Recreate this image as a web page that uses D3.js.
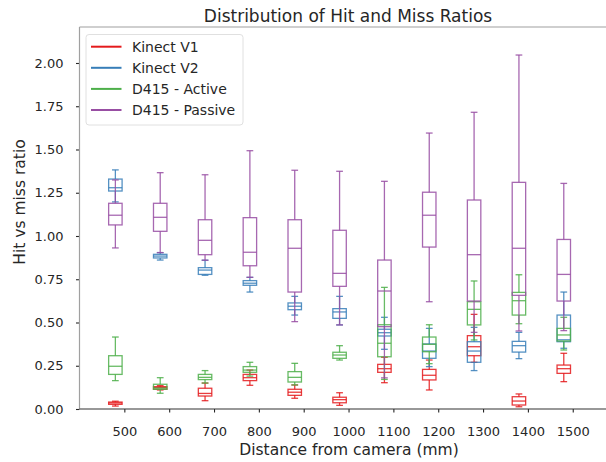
<!DOCTYPE html>
<html>
<head>
<meta charset="utf-8">
<script src="https://cdn.jsdelivr.net/npm/d3@7"></script>
<style>
  body { margin: 0; background: #fff; }
  text { font-family: "DejaVu Sans", sans-serif; fill: #262626; }
</style>
</head>
<body>
<svg id="chart"></svg>
<script>
// distances on the x axis
const distances = [500, 600, 700, 800, 900, 1000, 1100, 1200, 1300, 1400, 1500]
const yTicks = [0, 0.25, 0.5, 0.75, 1, 1.25, 1.5, 1.75, 2]

// each entry: [whisker low, q1, median, q3, whisker high]
const kinectV1 = [
  [0.017, 0.027, 0.035, 0.040, 0.045],
  [0.110, 0.114, 0.124, 0.129, 0.135],
  [0.048, 0.075, 0.090, 0.120, 0.150],
  [0.137, 0.164, 0.181, 0.200, 0.225],
  [0.062, 0.079, 0.097, 0.114, 0.139],
  [0.021, 0.036, 0.054, 0.068, 0.094],
  [0.152, 0.212, 0.233, 0.258, 0.299],
  [0.110, 0.168, 0.195, 0.229, 0.283],
  [0.270, 0.308, 0.360, 0.424, 0.547],
  [0.013, 0.023, 0.046, 0.071, 0.087],
  [0.158, 0.206, 0.233, 0.254, 0.322]
]
const kinectV2 = [
  [1.197, 1.260, 1.279, 1.329, 1.382],
  [0.861, 0.873, 0.884, 0.894, 0.904],
  [0.773, 0.778, 0.803, 0.817, 0.860],
  [0.676, 0.715, 0.727, 0.742, 0.761],
  [0.543, 0.574, 0.594, 0.613, 0.651],
  [0.486, 0.524, 0.561, 0.580, 0.651],
  [0.345, 0.422, 0.441, 0.461, 0.530],
  [0.245, 0.293, 0.335, 0.376, 0.466],
  [0.222, 0.270, 0.335, 0.389, 0.472],
  [0.291, 0.329, 0.366, 0.391, 0.443],
  [0.351, 0.389, 0.400, 0.543, 0.676]
]
const d415Active = [
  [0.164, 0.200, 0.247, 0.308, 0.416],
  [0.091, 0.114, 0.121, 0.143, 0.181],
  [0.150, 0.170, 0.183, 0.200, 0.222],
  [0.190, 0.212, 0.225, 0.245, 0.270],
  [0.139, 0.156, 0.183, 0.216, 0.264],
  [0.283, 0.293, 0.312, 0.328, 0.366],
  [0.171, 0.302, 0.380, 0.487, 0.703],
  [0.262, 0.331, 0.374, 0.416, 0.487],
  [0.399, 0.486, 0.576, 0.620, 0.740],
  [0.493, 0.543, 0.626, 0.674, 0.776],
  [0.341, 0.393, 0.428, 0.466, 0.530]
]
const d415Passive = [
  [0.931, 1.064, 1.120, 1.189, 1.324],
  [0.904, 1.027, 1.108, 1.189, 1.366],
  [0.860, 0.892, 0.975, 1.094, 1.354],
  [0.761, 0.828, 0.906, 1.106, 1.493],
  [0.505, 0.676, 0.929, 1.094, 1.380],
  [0.486, 0.709, 0.784, 1.033, 1.374],
  [0.180, 0.476, 0.682, 0.861, 1.316],
  [0.620, 0.936, 1.120, 1.253, 1.595],
  [0.443, 0.624, 0.892, 1.208, 1.715],
  [0.451, 0.657, 0.929, 1.310, 2.046],
  [0.453, 0.624, 0.778, 0.980, 1.304]
]

const seriesNames = ['Kinect V1', 'Kinect V2', 'D415 - Active', 'D415 - Passive']
const seriesData = [kinectV1, kinectV2, d415Active, d415Passive]
const colors = ['#e41a1c', '#377eb8', '#4daf4a', '#984ea3']

const svgWidth = 606, svgHeight = 462
const svg = d3.select('#chart').attr('width', svgWidth).attr('height', svgHeight)

const plotLeft = 79.5, plotTop = 27, plotBottom = 409
const step = 44.84

// positions 1..11, box drawn 0.2 left of the tick
const x = d3.scaleLinear().domain([0, 12]).range([plotLeft, plotLeft + 12 * step])
const y = d3.scaleLinear().domain([0, 2.208]).range([plotBottom, plotTop])
const boxW = 0.3 * step
const shift = -0.2

// axes
svg.append('g')
  .attr('transform', `translate(${plotLeft},0)`)
  .call(d3.axisLeft(y).tickValues(yTicks).tickFormat(d3.format('.2f')).tickSize(3.5).tickPadding(12.5))
  .call(g => g.select('.domain').remove())
  .call(g => g.selectAll('line').attr('stroke', '#262626').attr('stroke-width', 1.1))
  .call(g => g.selectAll('text').style('font-size', '13px').attr('fill', '#262626'))

svg.append('g')
  .attr('transform', `translate(0,${plotBottom})`)
  .call(d3.axisBottom(x).tickValues(distances.map((d, i) => i + 1)).tickFormat((d, i) => distances[i]).tickSize(3.5).tickPadding(14))
  .call(g => g.select('.domain').remove())
  .call(g => g.selectAll('line').attr('stroke', '#262626').attr('stroke-width', 1.1))
  .call(g => g.selectAll('text').style('font-size', '13px').attr('fill', '#262626'))

// spines
svg.append('line').attr('x1', plotLeft).attr('x2', plotLeft).attr('y1', plotTop).attr('y2', plotBottom)
  .attr('stroke', '#a0a0a0').attr('stroke-width', 1.2)
svg.append('line').attr('x1', plotLeft).attr('x2', svgWidth).attr('y1', plotTop).attr('y2', plotTop)
  .attr('stroke', '#a0a0a0').attr('stroke-width', 1.2)
svg.append('line').attr('x1', plotLeft).attr('x2', svgWidth).attr('y1', plotBottom).attr('y2', plotBottom)
  .attr('stroke', '#333').attr('stroke-width', 1.2)

// boxes
seriesData.forEach((series, s) => {
  const g = svg.append('g')
    .attr('stroke', colors[s])
    .attr('stroke-width', 1.3)
    .attr('stroke-opacity', 0.85)
    .attr('fill', 'none')

  const item = g.selectAll('g.box')
    .data(series)
    .enter()
    .append('g')
    .attr('class', 'box')

  const cx = (d, i) => x(i + 1 + shift)

  item.append('rect')
    .attr('x', (d, i) => cx(d, i) - boxW / 2)
    .attr('width', boxW)
    .attr('y', d => y(d[3]))
    .attr('height', d => y(d[1]) - y(d[3]))
  item.append('line')
    .attr('x1', (d, i) => cx(d, i) - boxW / 2).attr('x2', (d, i) => cx(d, i) + boxW / 2)
    .attr('y1', d => y(d[2])).attr('y2', d => y(d[2]))
  // whiskers
  item.append('line')
    .attr('x1', cx).attr('x2', cx)
    .attr('y1', d => y(d[3])).attr('y2', d => y(d[4]))
  item.append('line')
    .attr('x1', cx).attr('x2', cx)
    .attr('y1', d => y(d[1])).attr('y2', d => y(d[0]))
  // caps
  item.append('line')
    .attr('x1', (d, i) => cx(d, i) - boxW / 4).attr('x2', (d, i) => cx(d, i) + boxW / 4)
    .attr('y1', d => y(d[4])).attr('y2', d => y(d[4]))
  item.append('line')
    .attr('x1', (d, i) => cx(d, i) - boxW / 4).attr('x2', (d, i) => cx(d, i) + boxW / 4)
    .attr('y1', d => y(d[0])).attr('y2', d => y(d[0]))
})

// title and labels
svg.append('text')
  .attr('x', 348).attr('y', 22)
  .attr('text-anchor', 'middle')
  .style('font-size', '17px')
  .text('Distribution of Hit and Miss Ratios')

svg.append('text')
  .attr('x', 349).attr('y', 455)
  .attr('text-anchor', 'middle')
  .style('font-size', '15.5px')
  .text('Distance from camera (mm)')

svg.append('text')
  .attr('transform', 'translate(25,202) rotate(-90)')
  .attr('text-anchor', 'middle')
  .style('font-size', '15.5px')
  .text('Hit vs miss ratio')

// legend
const legend = svg.append('g')
legend.append('rect')
  .attr('x', 86).attr('y', 34.5)
  .attr('width', 157).attr('height', 90.5)
  .attr('rx', 3)
  .attr('fill', '#fff').attr('fill-opacity', 0.8)
  .attr('stroke', '#e0e0e0')

seriesNames.forEach((name, i) => {
  const ly = 46.7 + i * 21.1
  legend.append('line')
    .attr('x1', 91).attr('x2', 121.5)
    .attr('y1', ly).attr('y2', ly)
    .attr('stroke', colors[i]).attr('stroke-width', 2)
  legend.append('text')
    .attr('x', 132).attr('y', ly)
    .attr('dy', '0.36em')
    .style('font-size', '14px')
    .text(name)
})
</script>
</body>
</html>
